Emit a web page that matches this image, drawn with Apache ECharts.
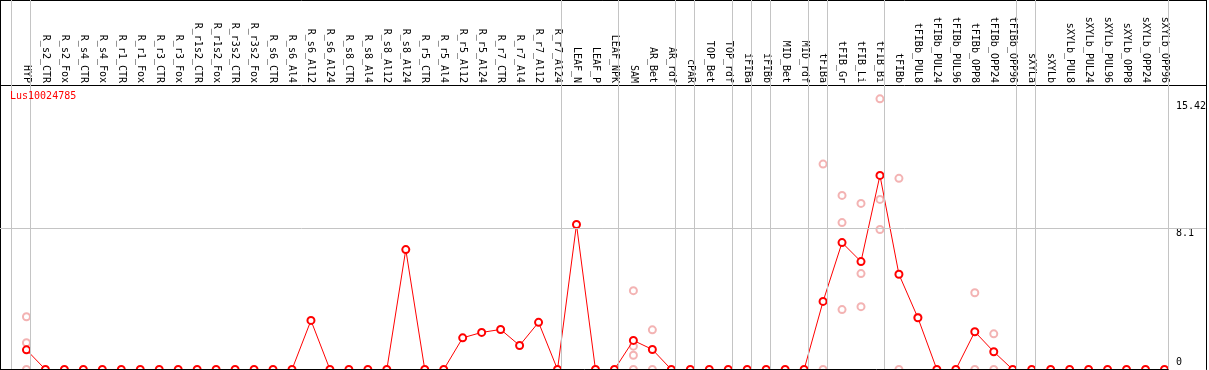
<!DOCTYPE html>
<html>
<head>
<meta charset="utf-8">
<script src="https://cdn.jsdelivr.net/npm/echarts@6/dist/echarts.min.js"></script>
<style>
  html, body { margin: 0; padding: 0; background: #fff; }
  #chart { width: 1209px; height: 370px; }
</style>
</head>
<body>
<div id="chart"></div>
<script>
// sample names, in plotting order
var categories = [
    'HYP', 'R_s2_CTR', 'R_s2_Fox', 'R_s4_CTR', 'R_s4_Fox', 'R_r1_CTR', 'R_r1_Fox',
    'R_r3_CTR', 'R_r3_Fox', 'R_r1s2_CTR', 'R_r1s2_Fox', 'R_r3s2_CTR', 'R_r3s2_Fox',
    'R_s6_CTR', 'R_s6_Al4', 'R_s6_Al12', 'R_s6_Al24', 'R_s8_CTR', 'R_s8_Al4',
    'R_s8_Al12', 'R_s8_Al24', 'R_r5_CTR', 'R_r5_Al4', 'R_r5_Al12', 'R_r5_Al24',
    'R_r7_CTR', 'R_r7_Al4', 'R_r7_Al12', 'R_r7_Al24', 'LEAF_N', 'LEAF_P', 'LEAF_NPK',
    'SAM', 'AR_Bet', 'AR_rdf', 'cPAR', 'TOP_Bet', 'TOP_rdf', 'iFIBa', 'iFIBb',
    'MID_Bet', 'MID_rdf', 'tFIBa', 'tFIB_Gr', 'tFIB_Li', 'tFIB_Bi', 'tFIBb',
    'tFIBb_PUL8', 'tFIBb_PUL24', 'tFIBb_PUL96', 'tFIBb_OPP8', 'tFIBb_OPP24', 'tFIBb_OPP96',
    'sXYLa', 'sXYLb', 'sXYLb_PUL8', 'sXYLb_PUL24', 'sXYLb_PUL96', 'sXYLb_OPP8',
    'sXYLb_OPP24', 'sXYLb_OPP96'
];

// mean expression per sample
var meanValues = [
    1.13, 0, 0, 0, 0, 0, 0, 0, 0, 0, 0, 0, 0, 0, 0,
    2.82, 0, 0, 0, 0, 6.89, 0, 0,
    1.82, 2.13, 2.30, 1.38, 2.71, 0,
    8.33, 0, 0,
    1.67, 1.15, 0,
    0, 0, 0, 0, 0, 0, 0,
    3.91, 7.29, 6.20, 11.15, 5.47, 2.97, 0, 0, 2.17, 1.02, 0,
    0, 0, 0, 0, 0, 0, 0, 0
];

// single replicates (light circles)
var repCategory = [
    'HYP', 'HYP', 'HYP',
    'SAM', 'SAM', 'SAM', 'SAM',
    'AR_Bet', 'AR_Bet',
    'tFIBa', 'tFIBa',
    'tFIB_Gr', 'tFIB_Gr', 'tFIB_Gr',
    'tFIB_Li', 'tFIB_Li', 'tFIB_Li',
    'tFIB_Bi', 'tFIB_Bi', 'tFIB_Bi',
    'tFIBb', 'tFIBb',
    'tFIBb_PUL8',
    'tFIBb_OPP8', 'tFIBb_OPP8',
    'tFIBb_OPP24', 'tFIBb_OPP24'
];
var repValue = [
    3.03, 1.54, 0,
    4.53, 1.34, 0.82, 0,
    2.28, 0,
    11.80, 0,
    10.00, 8.44, 3.44,
    9.54, 5.51, 3.61,
    15.55, 9.77, 8.04,
    10.98, 0,
    3.00,
    4.41, 0,
    2.05, 0
];

// first sample of each group (a grey rule is drawn before it)
var groupStarts = ['HYP', 'R_s2_CTR', 'LEAF_N', 'SAM', 'cPAR', 'TOP_Bet', 'iFIBa', 'iFIBb',
    'MID_Bet', 'tFIBa', 'tFIB_Gr', 'tFIBb', 'sXYLa', 'sXYLb'];

var yTicks = [0, 8.1, 15.42];
var geneName = 'Lus10024785';

var FONT = 'DejaVu Sans Mono';
var STEP = 19;                // px per sample
var xMin = -26.5 / STEP;
var xMax = xMin + 1208 / STEP;
var yMax = 369.5 / 17.407;
var RULE_SHIFT = 15 / STEP;

var idx = function (name) { return categories.indexOf(name); };

var vRules = groupStarts.map(function (n) { return { xAxis: idx(n) - RULE_SHIFT }; });
vRules.push({ xAxis: categories.length - RULE_SHIFT });

var blackLine = { show: true, onZero: false, lineStyle: { color: '#000', width: 1 } };

var chart = echarts.init(document.getElementById('chart'));

var option = {
    animation: false,
    backgroundColor: '#fff',
    title: {
        text: geneName,
        left: 10,
        top: 91,
        padding: 0,
        textStyle: { color: '#ff0000', fontSize: 10, fontWeight: 'normal', fontFamily: FONT }
    },
    grid: { left: 0, right: 1, top: 0, bottom: 0.5, containLabel: false },
    xAxis: [{
        type: 'value',
        position: 'top',
        offset: -85,
        min: xMin,
        max: xMax,
        axisLine: blackLine,
        axisTick: { show: false },
        splitLine: { show: false },
        axisLabel: {
            customValues: categories.map(function (c, i) { return i; }),
            rotate: 90,
            margin: 2,
            color: '#000',
            fontSize: 10,
            fontFamily: FONT,
            formatter: function (v) { return categories[Math.round(v)] || ''; }
        }
    }, {
        type: 'value',
        position: 'top',
        min: xMin,
        max: xMax,
        axisLine: blackLine,
        axisTick: { show: false },
        axisLabel: { show: false },
        splitLine: { show: false }
    }],
    yAxis: [{
        type: 'value',
        position: 'right',
        offset: -38,
        min: 0,
        max: yMax,
        axisLine: { show: false, onZero: false },
        axisTick: { show: false },
        splitLine: { show: false },
        axisLabel: {
            customValues: yTicks,
            margin: 8,
            color: '#000',
            fontSize: 10,
            fontFamily: FONT,
            formatter: function (v) { return v === 0 ? '{b|0}' : '{t|' + v + '}'; },
            rich: {
                t: { padding: [10, 0, 0, 0], fontSize: 10, fontFamily: FONT, color: '#000' },
                b: { padding: [0, 0, 14, 0], fontSize: 10, fontFamily: FONT, color: '#000' }
            }
        }
    }, {
        type: 'value',
        position: 'left',
        min: 0,
        max: yMax,
        axisLine: blackLine,
        axisTick: { show: false },
        axisLabel: { show: false },
        splitLine: { show: false }
    }, {
        type: 'value',
        position: 'right',
        min: 0,
        max: yMax,
        axisLine: blackLine,
        axisTick: { show: false },
        axisLabel: { show: false },
        splitLine: { show: false }
    }],
    series: [{
        // grid rules
        type: 'line',
        data: [],
        markLine: {
            silent: true,
            symbol: 'none',
            label: { show: false },
            lineStyle: { color: '#c4c4c4', width: 1, type: 'solid' },
            data: vRules.concat([{ yAxis: 8.1 }])
        }
    }, {
        type: 'line',
        data: [],
        markLine: {
            silent: true,
            symbol: 'none',
            label: { show: false },
            lineStyle: { color: '#000', width: 1, type: 'solid' },
            data: [[{ coord: [xMin, 0] }, { coord: [categories.length - RULE_SHIFT, 0] }]]
        }
    }, {
        name: 'replicates',
        type: 'scatter',
        symbol: 'emptyCircle',
        symbolSize: 7,
        itemStyle: { color: '#f0a0a0', borderWidth: 1.2 },
        z: 3,
        data: repCategory.map(function (c, i) { return [idx(c), repValue[i]]; })
    }, {
        name: geneName,
        type: 'line',
        symbol: 'emptyCircle',
        symbolSize: 7,
        lineStyle: { color: '#ff0000', width: 1 },
        itemStyle: { color: '#ff0000', borderWidth: 1.4 },
        z: 4,
        data: meanValues.map(function (v, i) { return [i, v]; })
    }]
};

chart.setOption(option);
</script>
</body>
</html>
